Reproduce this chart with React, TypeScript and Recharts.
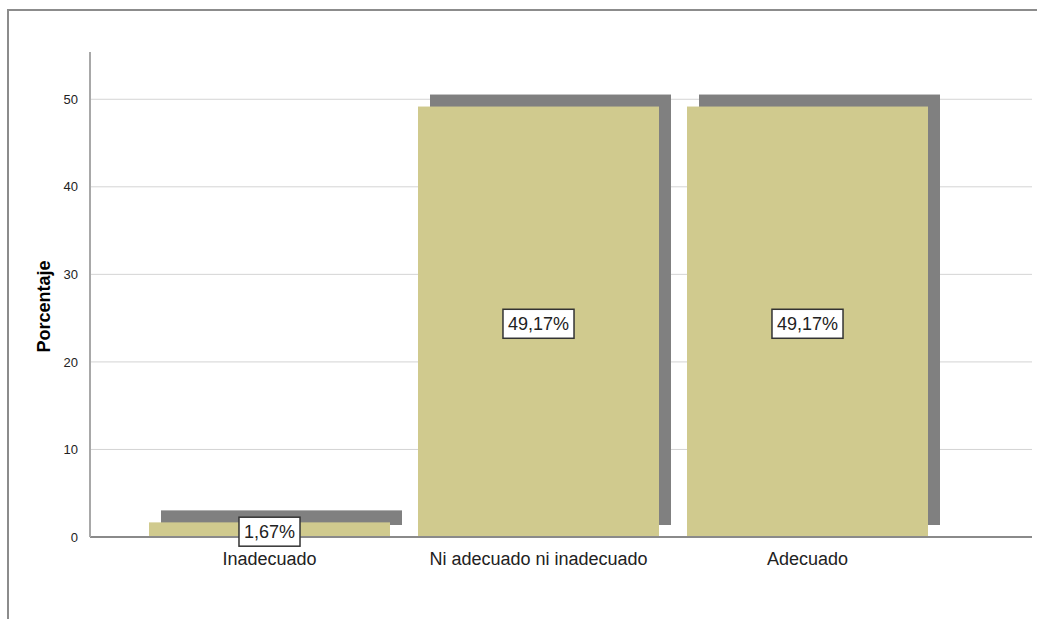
import React from "react";
import { BarChart, Bar, XAxis, YAxis, CartesianGrid, LabelList } from "recharts";

const categories = ["Inadecuado", "Ni adecuado ni inadecuado", "Adecuado"];
const porcentajes = [1.67, 49.17, 49.17];
const yTicks = [0, 10, 20, 30, 40, 50];

const data = categories.map((name, i) => ({ name, pct: porcentajes[i] }));

const FONT = "'Liberation Sans', Arial, sans-serif";
const SHADOW = 12;

// SPSS style drop shadow behind each bar
function ShadowBar(props: any) {
  const { x, y, width, height } = props;
  return (
    <g>
      <rect x={x + SHADOW} y={y - SHADOW} width={width} height={height} fill="#808080" />
      <rect x={x} y={y} width={width} height={height} fill="#D0CA8E" />
    </g>
  );
}

const charW: Record<string, number> = { ",": 0.278, "%": 0.889 };
function textWidth(s: string, size: number) {
  let w = 0;
  for (const c of s) w += charW[c] ?? 0.556;
  return w * size;
}

function BoxLabel(props: any) {
  const { x, y, width, height, value } = props;
  const txt = value.toFixed(2).replace(".", ",") + "%";
  const fs = 18;
  const w = textWidth(txt, fs) + 10;
  const h = 29;
  const cx = x + width / 2;
  const cy = y + height / 2 + 2;
  return (
    <g>
      <rect x={cx - w / 2} y={cy - h / 2} width={w} height={h} fill="#fff" stroke="#333" strokeWidth={1.5} />
      <text x={cx} y={cy + 6.5} textAnchor="middle" fontSize={fs} fontFamily={FONT} fill="#222">
        {txt}
      </text>
    </g>
  );
}

function YTitle(props: any) {
  const { viewBox } = props;
  const x = viewBox.x + 50;
  const y = viewBox.y + viewBox.height / 2 + 12;
  return (
    <text x={x} y={y} transform={`rotate(-90, ${x}, ${y})`} textAnchor="middle" fontSize={18}
      fontWeight="bold" fontFamily={FONT} fill="#000">
      Porcentaje
    </text>
  );
}

export default function App() {
  return (
    <div style={{ position: "absolute", left: 0, top: 0, width: 1037, height: 619, background: "#fff" }}>
      <div style={{ position: "absolute", left: 7, top: 9, right: 0, bottom: 0,
        borderTop: "2px solid #8c8c8c", borderLeft: "2px solid #8c8c8c" }} />
      <div style={{ position: "absolute", left: 0, top: 0 }}>
        <BarChart width={1037} height={619} data={data}
          margin={{ top: 52, right: 5, bottom: 0, left: 0 }} barCategoryGap={14}>
          <CartesianGrid vertical={false} stroke="#d4d4d4" strokeWidth={1}
            horizontalValues={yTicks.slice(1)} />
          <XAxis dataKey="name" height={82} padding={{ left: 45, right: 90 }}
            tickLine={false} axisLine={{ stroke: "#8a8a8a", strokeWidth: 2 }}
            tick={{ fontSize: 18, fontFamily: FONT, fill: "#222" }} tickMargin={9} interval={0} />
          <YAxis width={90} domain={[0, 55.4]} ticks={yTicks} tickLine={false}
            axisLine={{ stroke: "#a8a8a8", strokeWidth: 2 }}
            tick={{ fontSize: 13, fontFamily: FONT, fill: "#222" }} tickMargin={6}
            label={<YTitle />} />
          <Bar dataKey="pct" shape={<ShadowBar />} isAnimationActive={false}>
            <LabelList dataKey="pct" content={<BoxLabel />} />
          </Bar>
        </BarChart>
      </div>
    </div>
  );
}
